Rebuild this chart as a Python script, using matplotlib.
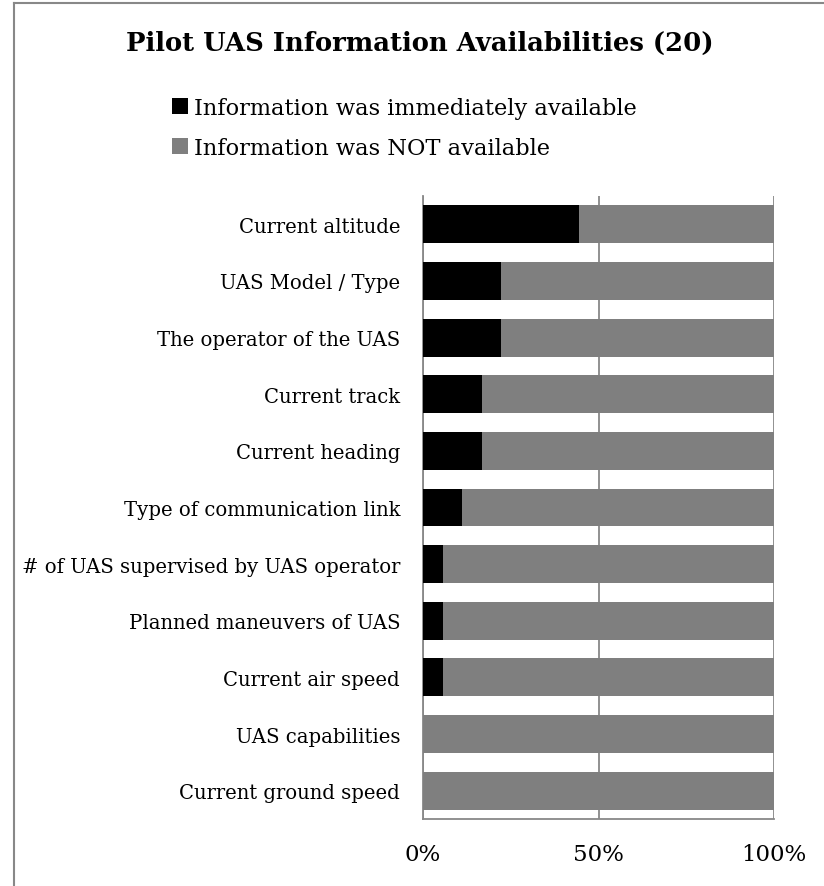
import matplotlib
matplotlib.use("Agg")
import matplotlib.pyplot as plt
from matplotlib.patches import Patch
from matplotlib.lines import Line2D

categories = [
    "Current altitude",
    "UAS Model / Type",
    "The operator of the UAS",
    "Current track",
    "Current heading",
    "Type of communication link",
    "# of UAS supervised by UAS operator",
    "Planned maneuvers of UAS",
    "Current air speed",
    "UAS capabilities",
    "Current ground speed",
]
available = [8/18, 4/18, 4/18, 3/18, 3/18, 2/18, 1/18, 1/18, 1/18, 0.0, 0.0]
not_available = [1 - v for v in available]
series_names = ["Information was immediately available", "Information was NOT available"]
colors = ["#000000", "#7f7f7f"]
title = "Pilot UAS Information Availabilities (20)"
xticks = [0, 0.5, 1.0]
xticklabels = ["0%", "50%", "100%"]

plt.rcParams["font.family"] = "DejaVu Serif"

W, H = 824, 887
fig = plt.figure(figsize=(W/100, H/100), dpi=100)
ax = fig.add_axes([423/W, 67/H, 351/W, (820-197)/H])

y = list(range(len(categories)))[::-1]
ax.barh(y, available, height=0.67, color=colors[0], zorder=3)
ax.barh(y, not_available, left=available, height=0.67, color=colors[1], zorder=3)

ax.set_xlim(0, 1)
ax.set_ylim(-0.5, len(categories) - 0.5)
ax.set_yticks(y)
ax.set_yticklabels(categories, fontsize=14.1)
ax.set_xticks(xticks)
ax.set_xticklabels(xticklabels, fontsize=16.5)
ax.tick_params(axis="both", length=0)
ax.tick_params(axis="y", pad=16.5)
ax.tick_params(axis="x", pad=17)
ax.grid(axis="x", color="#888888", linewidth=1.3, zorder=0)
for s in ["top", "right"]:
    ax.spines[s].set_visible(False)
for s in ["left", "bottom"]:
    ax.spines[s].set_color("#888888")
    ax.spines[s].set_linewidth(1.3)

fig.text(420/W, 1 - 43/H, title, ha="center", va="center", fontsize=18.6, fontweight="bold")

handles = [Patch(facecolor=c, edgecolor="none") for c in colors]
fig.legend(handles, series_names, loc="upper left", bbox_to_anchor=(172/W, 1 - 98/H),
           frameon=False, fontsize=16.2, handlelength=0.72, handleheight=0.72,
           handletextpad=0.25, labelspacing=0.8, borderaxespad=0, borderpad=0)

fig.add_artist(Line2D([14/W, 1], [1 - 4/H, 1 - 4/H], transform=fig.transFigure,
                      color="#888888", linewidth=1.5))
fig.add_artist(Line2D([14/W, 14/W], [0, 1 - 4/H], transform=fig.transFigure,
                      color="#888888", linewidth=1.5))

fig.savefig("out.png", dpi=100)
